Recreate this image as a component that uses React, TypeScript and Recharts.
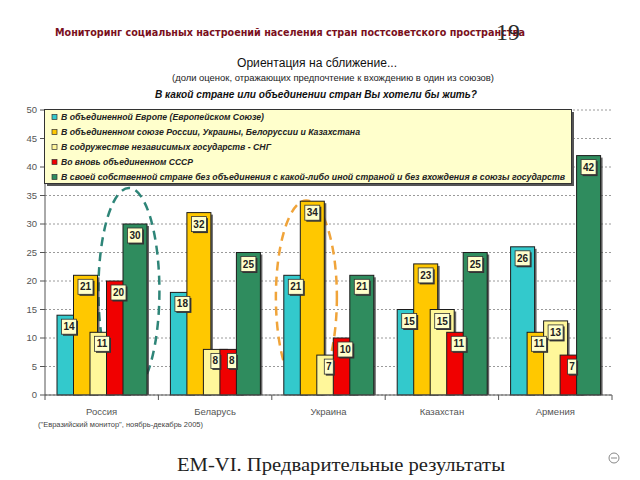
import React from 'react';
import { BarChart, Bar, XAxis, YAxis, CartesianGrid, Legend, LabelList, ReferenceArea } from 'recharts';

const countries = ['Россия', 'Беларусь', 'Украина', 'Казахстан', 'Армения'];
const europeUnion = [14, 18, 21, 15, 26];
const slavicUnion = [21, 32, 34, 23, 11];
const cisValues = [11, 8, 7, 15, 13];
const ussrValues = [20, 8, 10, 11, 7];
const ownCountry = [30, 25, 21, 25, 42];
const yTicks = [0, 5, 10, 15, 20, 25, 30, 35, 40, 45, 50];
const seriesKeys = ['eu', 'slavic', 'cis', 'ussr', 'own'];
const seriesNames = [
  'В объединенной Европе (Европейском Союзе)',
  'В объединенном союзе России, Украины, Белоруссии и Казахстана',
  'В содружестве независимых государств - СНГ',
  'Во вновь объединенном СССР',
  'В своей собственной стране без объединения с какой-либо иной страной и без вхождения в союзы государств',
];
const seriesColors = ['#33C9CC', '#FFC800', '#FFF79A', '#F00000', '#2F8C5E'];
const legendTextWidths = [203, 299, 210, 132, 504];

const data = countries.map((c, i) => ({
  country: c,
  eu: europeUnion[i],
  slavic: slavicUnion[i],
  cis: cisValues[i],
  ussr: ussrValues[i],
  own: ownCountry[i],
}));

const FONT = 'Liberation Sans, Arial, sans-serif';

const BarShape = (props: any) => {
  const { x, y, width, height, fill } = props;
  if (!height || height <= 0) return null;
  return (
    <g>
      <rect x={x + 2} y={y + 2} width={width} height={Math.max(0, height - 2)} fill="#333" opacity={0.75} />
      <rect x={x} y={y} width={width} height={height} fill={fill} stroke="#1c1c1c" strokeWidth={1} />
    </g>
  );
};

const ValueLabel = (props: any) => {
  const vb = props.viewBox && props.viewBox.width != null ? props.viewBox : props;
  const { x, y, width } = vb;
  const s = String(props.value);
  const w = s.length * 6 + 3;
  const h = 15;
  const cx = x + width / 2;
  const top = y + 4;
  return (
    <g>
      <rect x={cx - w / 2 + 1.5} y={top + 1.5} width={w} height={h} fill="#333" />
      <rect x={cx - w / 2} y={top} width={w} height={h} fill="#FFFFCC" stroke="#333" strokeWidth={0.8} />
      <text x={cx} y={top + h / 2} dy="0.35em" textAnchor="middle" fontSize={10} fontWeight={700} fill="#222" fontFamily={FONT}>
        {s}
      </text>
    </g>
  );
};

const XTick = (props: any) => {
  const { x, y, payload, index, visibleTicksCount } = props;
  const half = payload && payload.offset ? payload.offset : 56.7;
  const last = index === (visibleTicksCount || countries.length) - 1;
  return (
    <g>
      <line x1={x - half} x2={x - half} y1={y} y2={y + 5} stroke="#555" />
      {last && <line x1={x + half} x2={x + half} y1={y} y2={y + 5} stroke="#555" />}
      <text x={x} y={y + 17} dy="0.35em" textAnchor="middle" fontSize={9.5} fill="#555" fontFamily={FONT}>
        {payload.value}
      </text>
    </g>
  );
};

const LegendBox = () => (
  <svg width={534} height={80} style={{ display: 'block' }}>
    <rect x={3} y={3} width={527} height={74} fill="#555" />
    <rect x={0.5} y={0.5} width={527} height={74} fill="#FFFFCC" stroke="#333" />
    {seriesNames.map((n, i) => (
      <g key={i}>
        <rect x={8} y={8 + 15 * i - 2.5} width={5} height={5} fill={seriesColors[i]} stroke="#333" strokeWidth={0.7} />
        <text
          x={17}
          y={8 + 15 * i}
          dy="0.35em"
          fontSize={9.5}
          fontStyle="italic"
          fontWeight={700}
          fill="#222"
          fontFamily={FONT}
          textLength={legendTextWidths[i]}
          lengthAdjust="spacingAndGlyphs"
        >
          {n}
        </text>
      </g>
    ))}
  </svg>
);

const ellipseShape = (color: string, frac: number) => (props: any) => {
  const { x, y, width, height } = props;
  const cx = x + width * frac;
  return (
    <ellipse
      cx={cx}
      cy={y + height / 2}
      rx={30.5}
      ry={height / 2 - 1}
      fill="none"
      stroke={color}
      strokeWidth={2.5}
      strokeDasharray="9 6"
    />
  );
};

export default function App() {
  return (
    <div style={{ position: 'absolute', left: 0, top: 0, width: 640, height: 480, background: '#fff', overflow: 'hidden' }}>
      <BarChart
        width={640}
        height={480}
        data={data}
        margin={{ top: 110, right: 28, left: 0, bottom: 0 }}
        barSize={24}
        barGap={-7.5}
      >
        <CartesianGrid vertical={false} stroke="#9a9a9a" strokeDasharray="2 2" />
        <XAxis
          dataKey="country"
          height={85}
          tick={<XTick />}
          tickLine={false}
          tickSize={0}
          tickMargin={0}
          axisLine={{ stroke: '#555' }}
          interval={0}
        />
        <XAxis xAxisId="top" orientation="top" dataKey="country" height={0} tick={false} tickLine={false} axisLine={{ stroke: '#c4c4c4' }} />
        <YAxis
          width={45}
          domain={[0, 50]}
          ticks={yTicks}
          interval={0}
          tickSize={5}
          tickMargin={3}
          axisLine={{ stroke: '#555' }}
          tickLine={{ stroke: '#555' }}
          tick={{ fontSize: 9.5, fill: '#555', fontFamily: FONT }}
        />
        <YAxis yAxisId="right" orientation="right" width={0} tick={false} tickLine={false} axisLine={{ stroke: '#c4c4c4' }} />
        {seriesKeys.map((k, i) => (
          <Bar key={k} dataKey={k} name={seriesNames[i]} fill={seriesColors[i]} shape={<BarShape />} isAnimationActive={false}>
            <LabelList dataKey={k} content={<ValueLabel />} />
          </Bar>
        ))}
        <ReferenceArea x1="Россия" x2="Россия" y1={0} y2={36.5} ifOverflow="visible" shape={ellipseShape('#2E8578', 0.74)} />
        <ReferenceArea x1="Украина" x2="Украина" y1={0} y2={34.3} ifOverflow="visible" shape={ellipseShape('#F0A43A', 0.305)} />
        <Legend
          layout="vertical"
          align="center"
          verticalAlign="middle"
          content={<LegendBox />}
          wrapperStyle={{ position: 'absolute', left: 44, top: 109, width: 534, height: 80 }}
        />
      </BarChart>
      <svg width={640} height={480} style={{ position: 'absolute', left: 0, top: 0, pointerEvents: 'none' }}>
        <text x={55} y={36} fontSize={11} fontWeight={700} fill="#7A1020" fontFamily="DejaVu Sans, sans-serif" textLength={470} lengthAdjust="spacingAndGlyphs">
          Мониторинг социальных настроений населения стран постсоветского пространства
        </text>
        <text x={496} y={40} fontSize={24} fill="#2a2a2a" fontFamily="Liberation Serif, serif">19</text>
        <text x={237} y={67} fontSize={12.5} fill="#111" fontFamily={FONT} textLength={160} lengthAdjust="spacingAndGlyphs">
          Ориентация на сближение...
        </text>
        <text x={172} y={81} fontSize={9.5} fill="#222" fontFamily={FONT} textLength={322} lengthAdjust="spacingAndGlyphs">
          (доли оценок, отражающих предпочтение к вхождению в один из союзов)
        </text>
        <text x={155} y={98} fontSize={11} fontStyle="italic" fontWeight={700} fill="#111" fontFamily={FONT} textLength={322} lengthAdjust="spacingAndGlyphs">
          В какой стране или объединении стран Вы хотели бы жить?
        </text>
        <text x={38} y={427} fontSize={7} fill="#444" fontFamily={FONT} textLength={165} lengthAdjust="spacingAndGlyphs">
          ("Евразийский монитор", ноябрь-декабрь 2005)
        </text>
        <text x={177} y={471} fontSize={19} fill="#222" fontFamily="Liberation Serif, serif" textLength={328} lengthAdjust="spacingAndGlyphs">
          ЕМ-VI. Предварительные результаты
        </text>
        <circle cx={614} cy={458} r={5} fill="none" stroke="#888" strokeWidth={1} />
        <line x1={611} x2={617} y1={458} y2={458} stroke="#888" strokeWidth={1} />
      </svg>
    </div>
  );
}
